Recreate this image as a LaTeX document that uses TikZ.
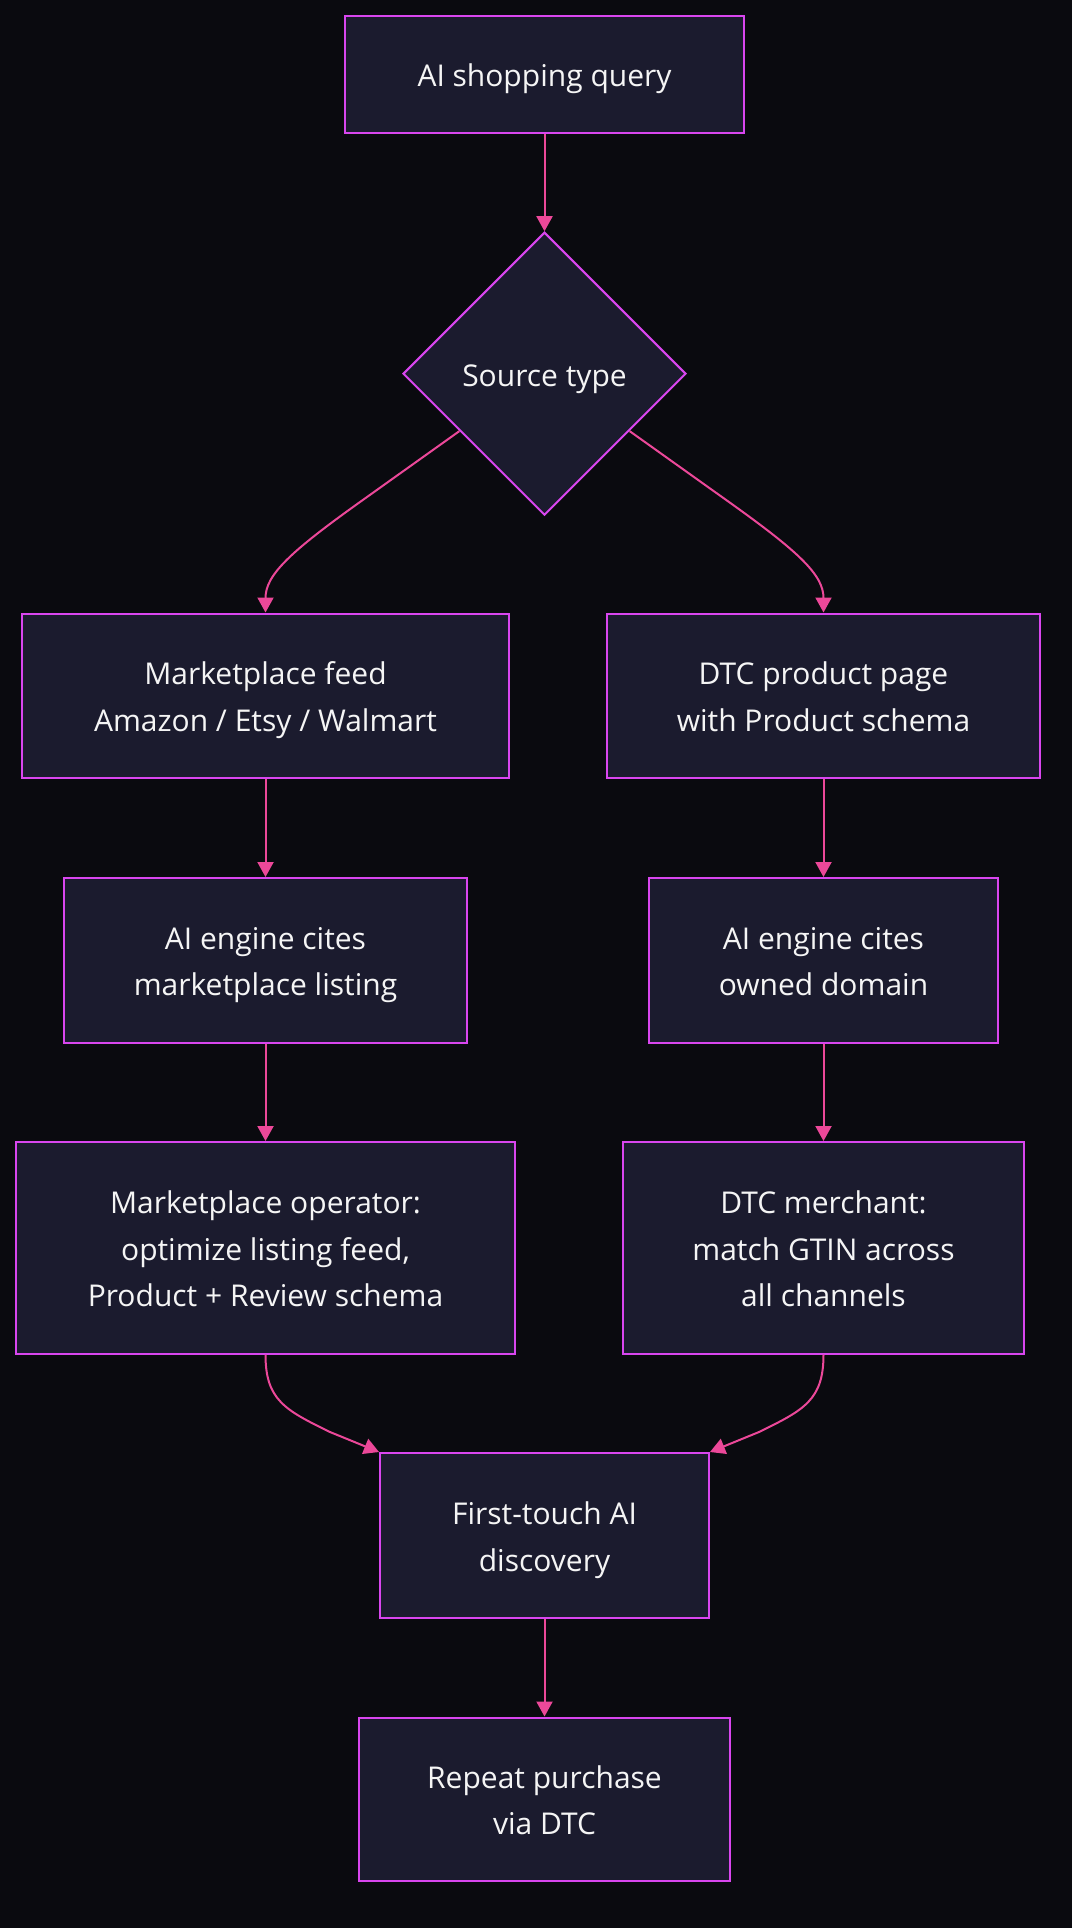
\documentclass[tikz,border=0pt]{standalone}
\usepackage{fontspec}
\setmainfont{Open Sans}
\usetikzlibrary{shapes.geometric,arrows.meta}
\definecolor{bgc}{HTML}{0A0A0F}
\definecolor{boxfill}{HTML}{1B1B2E}
\definecolor{boxline}{HTML}{D946EF}
\definecolor{edgec}{HTML}{EC4899}
\definecolor{txt}{HTML}{F5F5F5}
\begin{document}
\begin{tikzpicture}[x=1pt,y=-1pt,
  box/.style={draw=boxline,fill=boxfill,line width=2pt,inner sep=0pt},
  dia/.style={diamond,draw=boxline,fill=boxfill,line width=2pt,inner sep=0pt,minimum width=283pt,minimum height=283pt},
  lbl/.style={align=center,text=txt,inner sep=0pt,font=\fontsize{30}{46.7}\selectfont},
  edge/.style={draw=edgec,line width=2pt,-{Triangle[length=15pt,width=16pt]}}]
\fill[bgc] (0,0) rectangle (1072,1928);
\useasboundingbox (0,0) rectangle (1072,1928);

\node[box,minimum width=398.5pt,minimum height=117pt] (q) at (544.5,74.5) {};
\node[dia] (d) at (544.5,373.7) {};
\node[box,minimum width=487pt,minimum height=164.5pt] (mf) at (265.5,695.75) {};
\node[box,minimum width=433pt,minimum height=164.5pt] (dp) at (823.5,695.75) {};
\node[box,minimum width=403pt,minimum height=164.5pt] (ae1) at (265.5,960.25) {};
\node[box,minimum width=349pt,minimum height=164.5pt] (ae2) at (823.5,960.25) {};
\node[box,minimum width=499pt,minimum height=211.6pt] (mo) at (265.5,1247.8) {};
\node[box,minimum width=401pt,minimum height=211.6pt] (dm) at (823.5,1247.8) {};
\node[box,minimum width=329pt,minimum height=165pt] (ft) at (544.5,1535.5) {};
\node[box,minimum width=371pt,minimum height=163.5pt] (rp) at (544.5,1799.25) {};

\node[lbl] (qt) at ([yshift=-3pt]q.center) {\strut AI shopping query};
\node[lbl] (dt) at ([yshift=-3pt]d.center) {\strut Source type};
\node[lbl] (mft) at ([yshift=-3pt]mf.center) {\strut Marketplace feed\\\strut Amazon / Etsy / Walmart};
\node[lbl] (dpt) at ([yshift=-3pt]dp.center) {\strut DTC product page\\\strut with Product schema};
\node[lbl] (ae1t) at ([yshift=-3pt]ae1.center) {\strut AI engine cites\\\strut marketplace listing};
\node[lbl] (ae2t) at ([yshift=-3pt]ae2.center) {\strut AI engine cites\\\strut owned domain};
\node[lbl] (mot) at ([yshift=-3pt]mo.center) {\strut Marketplace operator:\\\strut optimize listing feed,\\\strut Product + Review schema};
\node[lbl] (dmt) at ([yshift=-3pt]dm.center) {\strut DTC merchant:\\\strut match GTIN across\\\strut all channels};
\node[lbl] (ftt) at ([yshift=-3pt]ft.center) {\strut First-touch AI\\\strut discovery};
\node[lbl] (rpt) at ([yshift=-3pt]rp.center) {\strut Repeat purchase\\\strut via DTC};

\draw[edge] (q.south) -- (d.north);
\draw[edge] (d.214) -- (360,502) .. controls (290,552) and (265.5,575) .. (mf.north);
\draw[edge] (d.326) -- (729,502) .. controls (799,552) and (823.5,575) .. (dp.north);
\draw[edge] (mf.south) -- (ae1.north);
\draw[edge] (dp.south) -- (ae2.north);
\draw[edge] (ae1.south) -- (mo.north);
\draw[edge] (ae2.south) -- (dm.north);
\draw[edge] (mo.south) .. controls (265.5,1400) and (285,1410) .. (330,1432) -- (ft.north west);
\draw[edge] (dm.south) .. controls (823.5,1400) and (804,1410) .. (759,1432) -- (ft.north east);
\draw[edge] (ft.south) -- (rp.north);
\end{tikzpicture}
\end{document}
